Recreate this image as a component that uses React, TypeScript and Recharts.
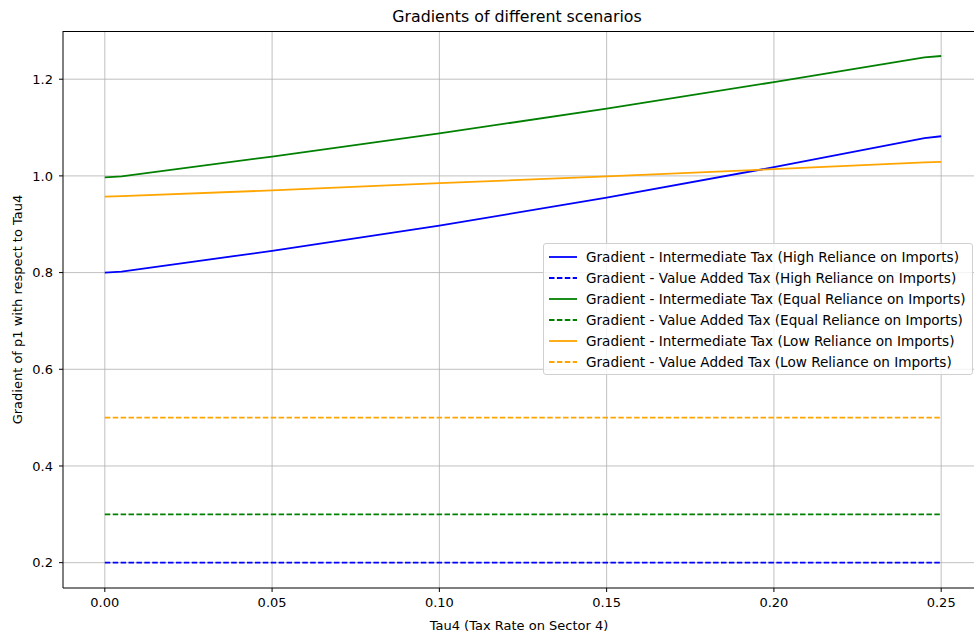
import { LineChart, Line, XAxis, YAxis, CartesianGrid } from "recharts";

// Tau4 sample points
const taus = [0, 0.005, 0.05, 0.1, 0.15, 0.2, 0.245, 0.25];

// gradient of p1, intermediate tax scenarios
const highIntermediate = [0.8, 0.802, 0.845, 0.897, 0.955, 1.018, 1.078, 1.082];
const equalIntermediate = [0.997, 0.999, 1.04, 1.088, 1.139, 1.194, 1.245, 1.248];
const lowIntermediate = [0.957, 0.958, 0.97, 0.985, 0.999, 1.014, 1.028, 1.029];

// value added tax scenarios (flat)
const highValueAdded = [0.2, 0.2, 0.2, 0.2, 0.2, 0.2, 0.2, 0.2];
const equalValueAdded = [0.3, 0.3, 0.3, 0.3, 0.3, 0.3, 0.3, 0.3];
const lowValueAdded = [0.5, 0.5, 0.5, 0.5, 0.5, 0.5, 0.5, 0.5];

const xTicks = [0, 0.05, 0.1, 0.15, 0.2, 0.25];
const yTicks = [0.2, 0.4, 0.6, 0.8, 1.0, 1.2];

const BLUE = "#0000ff";
const GREEN = "#008000";
const ORANGE = "#ffa500";
const DASH = "5.5 2.4";
const FONT = "'DejaVu Sans', sans-serif";
const FS = 13;

const series = [
  { key: "highInt", name: "Gradient - Intermediate Tax (High Reliance on Imports)", color: BLUE, dashed: false },
  { key: "highVat", name: "Gradient - Value Added Tax (High Reliance on Imports)", color: BLUE, dashed: true },
  { key: "equalInt", name: "Gradient - Intermediate Tax (Equal Reliance on Imports)", color: GREEN, dashed: false },
  { key: "equalVat", name: "Gradient - Value Added Tax (Equal Reliance on Imports)", color: GREEN, dashed: true },
  { key: "lowInt", name: "Gradient - Intermediate Tax (Low Reliance on Imports)", color: ORANGE, dashed: false },
  { key: "lowVat", name: "Gradient - Value Added Tax (Low Reliance on Imports)", color: ORANGE, dashed: true },
];

const data = taus.map((tau, i) => ({
  tau,
  highInt: highIntermediate[i],
  highVat: highValueAdded[i],
  equalInt: equalIntermediate[i],
  equalVat: equalValueAdded[i],
  lowInt: lowIntermediate[i],
  lowVat: lowValueAdded[i],
}));

const tickStyle = { fill: "#000", fontSize: FS, fontFamily: FONT };

// axes box; the figure is cropped a few pixels short of its right spine
const PLOT = { left: 63, top: 31, width: 920, height: 557 };

function LegendBox() {
  return (
    <div
      style={{
        position: "absolute",
        left: 543,
        top: 243,
        width: 430,
        boxSizing: "border-box",
        background: "rgba(255,255,255,0.8)",
        border: "1px solid #d0d0d0",
        borderRadius: 3,
        padding: "2px 0 2px 4px",
        fontFamily: FONT,
        fontSize: 13.6,
        color: "#000",
      }}
    >
      {series.map((s) => (
        <div key={s.key} style={{ display: "flex", alignItems: "center", height: 21 }}>
          <svg width={38} height={10} style={{ flex: "none" }}>
            <line
              x1={1}
              y1={5}
              x2={29}
              y2={5}
              stroke={s.color}
              strokeWidth={1.8}
              strokeDasharray={s.dashed ? DASH : undefined}
            />
          </svg>
          <span style={{ whiteSpace: "nowrap" }}>{s.name}</span>
        </div>
      ))}
    </div>
  );
}

export default function App() {
  return (
    <div
      style={{
        position: "absolute",
        left: 0,
        top: 0,
        width: 974,
        height: 634,
        overflow: "hidden",
        background: "#fff",
      }}
    >
      <div
        style={{
          position: "absolute",
          top: 7,
          left: PLOT.left,
          width: 908,
          textAlign: "center",
          fontFamily: FONT,
          fontSize: 15.8,
          lineHeight: "20px",
          color: "#000",
        }}
      >
        Gradients of different scenarios
      </div>
      <LineChart width={984} height={634} data={data} margin={{ top: 31, right: 1, bottom: 0, left: 13 }}>
        <CartesianGrid stroke="#b0b0b0" strokeWidth={0.8} horizontalValues={yTicks} verticalValues={xTicks} />
        <XAxis
          dataKey="tau"
          type="number"
          domain={[-0.0125, 0.2625]}
          ticks={xTicks}
          allowDataOverflow
          tickFormatter={(v: number) => v.toFixed(2)}
          tick={tickStyle}
          tickSize={4}
          tickMargin={6}
          height={46}
          stroke="#000"
          label={{
            value: "Tau4 (Tax Rate on Sector 4)",
            position: "insideBottom",
            offset: 4,
            dx: -4,
            fill: "#000",
            fontSize: FS,
            fontFamily: FONT,
          }}
        />
        <YAxis
          type="number"
          domain={[0.1476, 1.2997]}
          ticks={yTicks}
          allowDataOverflow
          tickFormatter={(v: number) => v.toFixed(1)}
          tick={tickStyle}
          tickSize={4}
          tickMargin={6}
          width={50}
          stroke="#000"
          label={{
            value: "Gradient of p1 with respect to Tau4",
            angle: -90,
            position: "insideLeft",
            offset: 0,
            dx: 4,
            fill: "#000",
            fontSize: FS,
            fontFamily: FONT,
            style: { textAnchor: "middle" },
          }}
        />
        {series.map((s) => (
          <Line
            key={s.key}
            type="linear"
            dataKey={s.key}
            name={s.name}
            stroke={s.color}
            strokeWidth={1.8}
            strokeDasharray={s.dashed ? DASH : undefined}
            dot={false}
            activeDot={false}
            isAnimationActive={false}
          />
        ))}
      </LineChart>
      {/* top spine of the axes box */}
      <div
        style={{
          position: "absolute",
          left: PLOT.left,
          top: PLOT.top,
          width: PLOT.width,
          height: PLOT.height,
          boxSizing: "border-box",
          borderTop: "1px solid #000",
          borderRight: "1px solid #000",
          pointerEvents: "none",
        }}
      />
      <LegendBox />
    </div>
  );
}
